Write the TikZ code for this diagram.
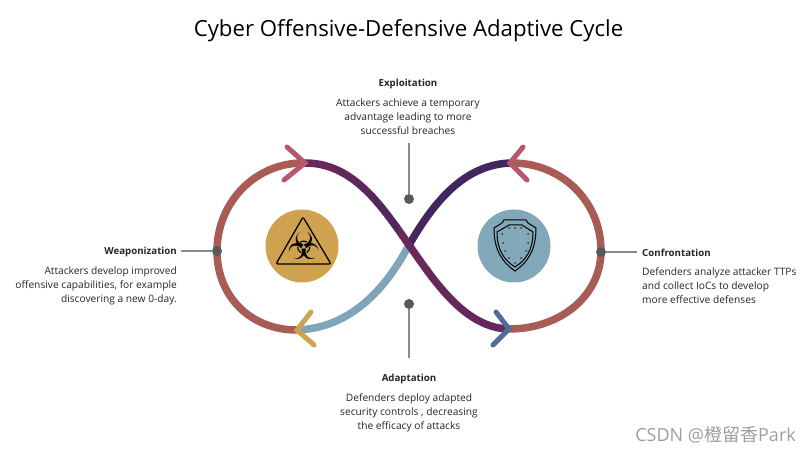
\documentclass[tikz,border=0pt]{standalone}
\usepackage{fontspec}
\setmainfont{Open Sans}
\newfontfamily\symfont{DejaVu Sans}
\newfontfamily\cjkfont{Noto Sans CJK SC}
\usepackage{tikz}
\usetikzlibrary{positioning,arrows.meta}
\definecolor{cyred}{HTML}{A95B56}
\definecolor{cypurple}{HTML}{68285A}
\definecolor{cydark}{HTML}{43265F}
\definecolor{cylight}{HTML}{7FA6B8}
\definecolor{cygold}{HTML}{CFA24F}
\definecolor{cyteal}{HTML}{82A8BA}
\definecolor{cypink}{HTML}{B8566E}
\definecolor{cyblue}{HTML}{4F6C9A}
\definecolor{cydot}{HTML}{595959}
\definecolor{cytext}{HTML}{262626}

\begin{document}
\begin{tikzpicture}[
  x=1pt, y=-1pt,
  band/.style={line width=7.5pt},
  chev/.style={line width=5pt, line cap=round, line join=miter},
  pin/.style={circle, fill=cydot, inner sep=0pt, minimum size=10pt},
  lead/.style={draw=cydot!70, line width=1.3pt},
  badge/.style={circle, inner sep=0pt, minimum size=73pt},
  head/.style={font=\fontsize{9.7}{13}\selectfont\bfseries, text=cytext, inner sep=0pt},
  blurb/.style={font=\fontsize{10.2}{14}\selectfont, text=cytext, inner sep=0pt},
  icon/.style={draw=black, line width=1pt}
]
\useasboundingbox (0,0) rectangle (812,454);
\node[font=\fontsize{22.2}{26}\selectfont, text=black] (title) at (408.5,31) {Cyber Offensive-Defensive Adaptive Cycle};

\coordinate (lefttop) at (305,163);
\coordinate (leftbot) at (297,330);
\coordinate (rghttop) at (510,163);
\coordinate (rghtbot) at (509,329);
\coordinate (cross) at (409,245);

% loops
\draw[band, cyred] (leftbot) .. controls (250,330) and (217,296) .. (217,251) .. controls (217,203) and (255,162) .. (lefttop);
\draw[band, cyred] (rghttop) .. controls (560,162) and (601,200) .. (601,251) .. controls (601,296) and (560,329) .. (rghtbot);
\draw[band, cylight] (cross) .. controls (385,290) and (350,328) .. (leftbot);
\draw[band, cydark] (rghttop) .. controls (465,165) and (435,200) .. (cross);
% purple band, darker towards its middle
\foreach \xa/\xb/\m in {300/340/100, 339/375/65, 374/400/40, 399/430/100, 429/515/90} {
  \begin{scope}
    \clip (\xa,120) rectangle (\xb,360);
    \draw[band, cypurple!\m!cydark] (lefttop) .. controls (352,163) and (380,203) .. (cross) .. controls (435,282) and (465,328) .. (rghtbot);
  \end{scope}
}

% arrow heads
\draw[chev, cypink] (287,147) -- (lefttop) -- (284,180);
\draw[chev, cygold] (311,312) -- (leftbot) -- (314,345);
\draw[chev, cypink] (523,147) -- (rghttop) -- (527,180);
\draw[chev, cyblue] (496,312) -- (rghtbot) -- (493,345);

% icons
\node[badge, fill=cygold] (hazard) at (302,246) {};
\node[badge, fill=cyteal] (shield) at (514,246) {};
\draw[icon, line width=1.3pt, rounded corners=2pt] (303,217) -- (331,264) -- (276,264) -- cycle;
\node[font=\symfont\fontsize{37}{37}\selectfont, inner sep=0pt] (biohazard) at (304,246) {☣};
\draw[icon] (504,220) -- (526,220) -- (528,223) -- (536,228) .. controls (536,250) and (528,262) .. (515,271) .. controls (502,262) and (494,250) .. (494,228) -- (502,223) -- cycle;
\draw[icon] (509,225) -- (522,225) -- (533,232) .. controls (533,250) and (526,260) .. (515,267) .. controls (504,260) and (497,250) .. (497,232) -- cycle;
\foreach \px/\py in {515/228, 509/228, 521/228, 502/234, 528/234, 503/243, 528/243, 505/251, 526/251, 509/258, 521/258, 515/263}
  \fill[black!80] (\px,\py) circle (1pt);

% pins and labels
\node[pin] (pintop) at (409,199) {};
\node[pin] (pinbot) at (409,304) {};
\node[pin] (pinleft) at (217,251) {};
\node[pin] (pinrght) at (601,252) {};

\node[head] (exploit) at (408,84) {Exploitation};
\node[blurb, align=center, anchor=north] (exploittxt) at (408,98.5) {Attackers achieve a temporary\\advantage leading to more\\successful breaches};
\node[head] (adapt) at (409,379) {Adaptation};
\node[blurb, align=center, anchor=north] (adapttxt) at (409,393) {Defenders deploy adapted\\security controls , decreasing\\the efficacy of attacks};
\node[head, anchor=east] (weapon) at (177,252) {Weaponization};
\node[blurb, align=right, anchor=north east] (weapontxt) at (177,267) {Attackers develop improved\\offensive capabilities, for example\\discovering a new 0-day.};
\node[head, anchor=west] (confront) at (642,253) {Confrontation};
\node[blurb, align=left, anchor=north west] (confronttxt) at (642,267.5) {Defenders analyze attacker TTPs\\and collect IoCs to develop\\more effective defenses};

\coordinate (leadtop) at (409,143);
\coordinate (leadbot) at (409,358);
\coordinate (leadleft) at (181,251);
\coordinate (leadrght) at (637,252);
\draw[lead] (leadtop) -- (pintop);
\draw[lead] (pinbot) -- (leadbot);
\draw[lead] (leadleft) -- (pinleft);
\draw[lead] (pinrght) -- (leadrght);

\node[font=\fontsize{18}{21}\selectfont, text=black!38, anchor=east, inner sep=0pt] (mark) at (796,435) {CSDN @{\cjkfont 橙留香}Park};
\end{tikzpicture}
\end{document}
